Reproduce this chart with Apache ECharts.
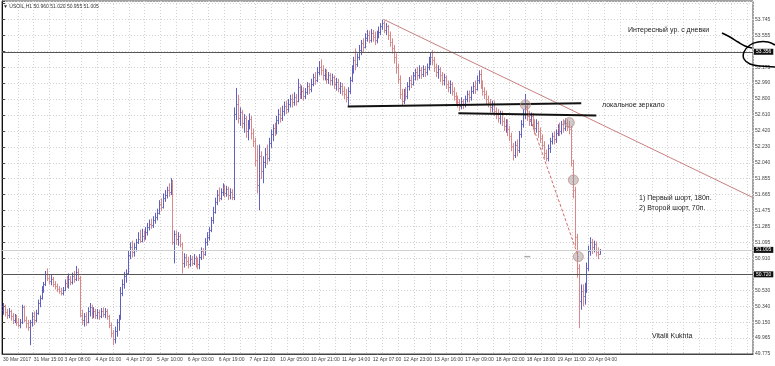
<!DOCTYPE html>
<html><head><meta charset="utf-8">
<script src="https://cdn.jsdelivr.net/npm/echarts@6/dist/echarts.min.js"></script>
<style>html,body{margin:0;padding:0;background:#fff}#c{width:775px;height:366px}</style>
</head><body><div id="c"></div>
<script>
// ---- data ----
const symbolName = 'USOIL,H1';
const timeLabels = ['30 Mar 2017','31 Mar 15:00','3 Apr 08:00','4 Apr 01:00','4 Apr 17:00','5 Apr 10:00','6 Apr 03:00','6 Apr 19:00','7 Apr 12:00','10 Apr 05:00','10 Apr 21:00','11 Apr 14:00','12 Apr 07:00','12 Apr 23:00','13 Apr 16:00','17 Apr 09:00','18 Apr 02:00','18 Apr 18:00','19 Apr 11:00','20 Apr 04:00'];
const priceTicks = ['49.775','49.965','50.150','50.340','50.530','50.720','50.910','51.095','51.285','51.475','51.665','51.855','52.040','52.230','52.420','52.610','52.800','52.990','53.175','53.365','53.555','53.745'];
// [open, close, low, high]
const bars = [
[50.30,50.34,50.24,50.38],[50.34,50.27,50.22,50.36],[50.27,50.24,50.19,50.31],[50.24,50.28,50.20,50.32],[50.28,50.22,50.17,50.30],
[50.22,50.18,50.13,50.26],[50.18,50.21,50.14,50.25],[50.21,50.16,50.11,50.24],[50.16,50.12,50.09,50.20],[50.12,50.15,50.08,50.19],
[50.15,50.33,50.13,50.36],[50.33,50.18,50.15,50.35],[50.18,50.14,50.08,50.22],[50.14,50.10,50.05,50.18],[50.10,50.15,49.88,50.18],
[50.15,50.22,50.10,50.27],[50.22,50.18,50.12,50.28],[50.18,50.26,50.15,50.30],[50.26,50.38,50.24,50.42],[50.38,50.44,50.33,50.47],
[50.44,50.55,50.42,50.58],[50.55,50.60,50.50,50.63],[50.60,50.72,50.58,50.76],[50.72,50.68,50.64,50.79],[50.68,50.64,50.60,50.72],
[50.64,50.67,50.59,50.71],[50.67,50.61,50.57,50.69],[50.61,50.58,50.54,50.64],[50.58,50.55,50.51,50.61],[50.55,50.52,50.49,50.58],
[50.52,50.50,50.47,50.56],[50.50,50.54,50.47,50.57],[50.54,50.62,50.52,50.66],[50.62,50.58,50.56,50.70],[50.58,50.66,50.55,50.73],
[50.66,50.63,50.59,50.70],[50.63,50.70,50.60,50.74],[50.70,50.66,50.62,50.76],[50.66,50.75,50.64,50.82],[50.75,50.68,50.64,50.79],
[50.68,50.24,50.21,50.70],[50.24,50.18,50.12,50.30],[50.18,50.22,50.10,50.26],[50.22,50.15,50.11,50.27],[50.15,50.28,50.14,50.33],
[50.28,50.33,50.22,50.38],[50.33,50.26,50.19,50.36],[50.26,50.29,50.20,50.33],[50.29,50.24,50.19,50.31],[50.24,50.27,50.19,50.31],
[50.27,50.23,50.18,50.30],[50.23,50.28,50.20,50.32],[50.28,50.25,50.21,50.33],[50.25,50.29,50.20,50.32],[50.29,50.22,50.18,50.31],
[50.22,50.12,50.08,50.24],[50.12,50.02,49.97,50.15],[50.02,49.95,49.88,50.06],[49.95,50.05,49.90,50.10],[50.05,50.15,49.98,50.19],
[50.15,50.20,50.05,50.24],[50.20,50.50,50.18,50.57],[50.50,50.60,50.46,50.66],[50.60,50.70,50.55,50.75],[50.70,50.74,50.62,50.78],
[50.74,50.95,50.72,51.00],[50.95,51.05,50.90,51.10],[51.05,50.98,50.92,51.12],[50.98,51.04,50.93,51.09],[51.04,51.10,50.99,51.14],
[51.10,51.14,51.08,51.22],[51.14,51.12,51.09,51.25],[51.12,51.18,51.10,51.26],[51.18,51.15,51.11,51.24],[51.15,51.22,51.13,51.28],
[51.22,51.28,51.18,51.33],[51.28,51.32,51.24,51.37],[51.32,51.30,51.26,51.38],[51.30,51.36,51.27,51.41],[51.36,51.40,51.32,51.45],
[51.40,51.45,51.36,51.50],[51.45,51.55,51.43,51.60],[51.55,51.52,51.47,51.62],[51.52,51.62,51.50,51.68],[51.62,51.66,51.58,51.72],
[51.66,51.72,51.62,51.76],[51.72,51.70,51.64,51.80],[51.70,51.82,51.66,51.86],[51.82,51.10,51.07,51.84],[51.10,51.20,50.85,51.24],
[51.20,51.14,51.07,51.24],[51.14,51.18,51.06,51.22],[51.18,51.08,51.04,51.20],[51.08,50.85,50.73,51.10],[50.85,50.92,50.80,50.97],
[50.92,50.88,50.82,50.96],[50.88,50.84,50.79,50.93],[50.84,50.90,50.81,50.95],[50.90,50.86,50.82,50.94],[50.86,50.91,50.83,50.96],
[50.91,50.87,50.80,50.94],[50.87,50.84,50.78,50.92],[50.84,50.92,50.78,50.96],[50.92,51.00,50.89,51.04],[51.00,50.96,50.90,51.03],
[50.96,51.10,50.94,51.15],[51.10,51.16,51.06,51.22],[51.16,51.24,51.12,51.28],[51.24,51.36,51.22,51.40],[51.36,51.46,51.32,51.52],
[51.46,51.58,51.44,51.63],[51.58,51.66,51.54,51.72],[51.66,51.63,51.58,51.75],[51.63,51.70,51.60,51.74],[51.70,51.74,51.65,51.80],
[51.74,51.68,51.63,51.78],[51.68,51.73,51.64,51.77],[51.73,51.66,51.60,51.76],[51.66,51.70,51.61,51.74],[51.70,51.64,51.60,51.73],
[51.64,52.62,51.60,52.70],[52.62,52.74,52.55,52.93],[52.74,52.58,52.51,52.85],[52.58,52.64,52.48,52.70],[52.64,52.52,52.45,52.67],
[52.52,52.57,52.40,52.62],[52.57,52.42,52.34,52.60],[52.42,52.50,52.31,52.55],[52.50,52.56,52.44,52.63],[52.56,52.40,52.32,52.60],
[52.40,52.30,52.23,52.45],[52.30,52.08,52.00,52.34],[52.08,51.78,51.68,52.25],[51.78,52.12,51.48,52.26],[52.12,51.95,51.85,52.18],
[51.95,52.05,51.80,52.12],[52.05,52.15,51.98,52.22],[52.15,52.10,52.02,52.26],[52.10,52.28,52.06,52.34],[52.28,52.38,52.22,52.44],
[52.38,52.46,52.30,52.50],[52.46,52.42,52.36,52.52],[52.42,52.55,52.38,52.60],[52.55,52.62,52.50,52.68],[52.62,52.58,52.52,52.70],
[52.58,52.66,52.54,52.72],[52.66,52.72,52.60,52.77],[52.72,52.68,52.62,52.78],[52.68,52.74,52.64,52.80],[52.74,52.80,52.70,52.85],
[52.80,52.76,52.70,52.86],[52.76,52.82,52.72,52.88],[52.82,52.78,52.72,52.86],[52.78,52.94,52.76,53.04],[52.94,52.86,52.80,52.98],
[52.86,52.90,52.80,52.96],[52.90,52.84,52.78,52.94],[52.84,52.88,52.80,52.93],[52.88,52.95,52.85,53.00],[52.95,52.92,52.86,52.99],
[52.92,52.98,52.88,53.04],[52.98,53.06,52.95,53.10],[53.06,53.02,52.97,53.12],[53.02,53.12,53.00,53.18],[53.12,53.18,53.08,53.25],
[53.18,53.14,53.08,53.27],[53.14,53.08,53.02,53.20],[53.08,53.12,53.02,53.16],[53.12,53.04,52.98,53.15],[53.04,53.08,52.98,53.12],
[53.08,53.02,52.96,53.11],[53.02,53.06,52.96,53.10],[53.06,52.98,52.92,53.08],[52.98,53.00,52.90,53.05],[53.00,52.93,52.88,53.04],
[52.93,52.96,52.86,53.00],[52.96,52.90,52.84,52.99],[52.90,52.86,52.80,52.95],[52.86,52.82,52.76,52.92],[52.82,52.90,52.72,52.94],
[52.90,53.02,52.86,53.06],[53.02,53.16,53.00,53.20],[53.16,53.26,53.10,53.30],[53.26,53.22,53.14,53.40],[53.22,53.30,53.18,53.34],
[53.30,53.38,53.26,53.44],[53.38,53.46,53.32,53.50],[53.46,53.42,53.36,53.52],[53.42,53.52,53.40,53.58],[53.52,53.56,53.48,53.62],
[53.56,53.50,53.46,53.61],[53.50,53.58,53.47,53.63],[53.58,53.54,53.48,53.62],[53.54,53.50,53.44,53.60],[53.50,53.56,53.46,53.61],
[53.56,53.60,53.52,53.66],[53.60,53.66,53.56,53.70],[53.66,53.70,53.62,53.74],[53.70,53.62,53.58,53.73],[53.62,53.66,53.56,53.70],
[53.66,53.56,53.50,53.68],[53.56,53.48,53.42,53.60],[53.48,53.40,53.34,53.52],[53.40,53.30,53.22,53.44],[53.30,53.18,53.10,53.34],
[53.18,53.04,52.98,53.22],[53.04,52.86,52.80,53.08],[52.86,52.78,52.72,52.92],[52.78,52.88,52.74,52.92],[52.88,52.84,52.78,52.94],
[52.84,52.95,52.80,53.00],[52.95,53.02,52.90,53.06],[53.02,52.98,52.93,53.08],[52.98,53.08,52.96,53.12],[53.08,53.12,53.02,53.16],
[53.12,53.08,53.02,53.18],[53.08,53.14,53.04,53.20],[53.14,53.10,53.04,53.18],[53.10,53.16,53.06,53.20],[53.16,53.12,53.06,53.19],
[53.12,53.18,53.08,53.22],[53.18,53.24,53.14,53.30],[53.24,53.30,53.20,53.35],[53.30,53.26,53.20,53.38],[53.26,53.18,53.12,53.30],
[53.18,53.12,53.06,53.22],[53.12,53.16,53.04,53.20],[53.16,53.08,53.00,53.18],[53.08,53.02,52.96,53.12],[53.02,53.06,52.96,53.10],
[53.06,52.98,52.92,53.08],[52.98,52.94,52.88,53.02],[52.94,52.98,52.86,53.02],[52.98,52.90,52.84,53.00],[52.90,52.84,52.78,52.94],
[52.84,52.80,52.74,52.88],[52.80,52.76,52.70,52.84],[52.76,52.72,52.66,52.80],[52.72,52.78,52.68,52.82],[52.78,52.74,52.68,52.80],
[52.74,52.80,52.70,52.84],[52.80,52.86,52.76,52.90],[52.86,52.82,52.76,52.90],[52.82,52.90,52.78,52.95],[52.90,52.96,52.86,53.00],
[52.96,52.92,52.86,53.02],[52.92,53.02,52.90,53.08],[53.02,53.10,52.98,53.14],[53.10,52.98,52.92,53.15],[52.98,52.90,52.84,53.02],
[52.90,52.86,52.80,52.94],[52.86,52.80,52.74,52.90],[52.80,52.76,52.70,52.84],[52.76,52.70,52.64,52.80],[52.70,52.74,52.64,52.78],
[52.74,52.66,52.60,52.78],[52.66,52.62,52.56,52.70],[52.62,52.58,52.52,52.68],[52.58,52.62,52.50,52.66],[52.62,52.54,52.48,52.66],
[52.54,52.48,52.42,52.58],[52.48,52.52,52.40,52.56],[52.52,52.44,52.36,52.56],[52.44,52.36,52.30,52.48],[52.36,52.24,52.18,52.40],
[52.24,52.14,52.07,52.28],[52.14,52.26,52.10,52.30],[52.26,52.20,52.12,52.32],[52.20,52.38,52.16,52.42],[52.38,52.50,52.34,52.55],
[52.50,52.62,52.46,52.68],[52.62,52.70,52.56,52.86],[52.70,52.60,52.54,52.74],[52.60,52.54,52.48,52.66],[52.54,52.60,52.48,52.64],
[52.60,52.50,52.44,52.63],[52.50,52.46,52.38,52.56],[52.46,52.52,52.40,52.56],[52.52,52.42,52.34,52.54],[52.42,52.34,52.28,52.46],
[52.34,52.26,52.20,52.38],[52.26,52.16,52.10,52.30],[52.16,52.10,52.06,52.20],[52.10,52.22,52.06,52.26],[52.22,52.30,52.16,52.34],
[52.30,52.36,52.26,52.40],[52.36,52.32,52.26,52.42],[52.32,52.40,52.28,52.44],[52.40,52.46,52.36,52.50],[52.46,52.42,52.36,52.52],
[52.42,52.50,52.38,52.54],[52.50,52.46,52.40,52.56],[52.46,52.52,52.42,52.57],[52.52,52.48,52.42,52.56],[52.48,52.44,52.38,52.54],
[52.44,52.04,52.00,52.48],[52.04,51.72,51.62,52.08],[51.72,51.16,51.05,51.76],[51.16,50.80,50.68,51.20],[50.80,50.40,50.08,50.84],
[50.40,50.52,50.30,50.60],[50.52,50.46,50.34,50.60],[50.46,50.54,50.36,50.62],[50.54,50.80,50.50,50.86],[50.80,51.00,50.76,51.06],
[51.00,51.10,50.94,51.16],[51.10,51.04,50.96,51.14],[51.04,51.08,50.98,51.12],[51.08,50.98,50.93,51.11],[50.98,50.96,50.90,51.04],
[50.960,51.005,50.955,51.020]
];
const totalSlots = 390;           // bars + chart shift space on the right
const levelLines = [53.356, 50.720];
const bidPrice = 51.005;
// annotations in (bar index, price)
const trendLine = [[197.6, 53.745], [389.5, 51.63]];
const mirrorLine1 = [[179, 52.71], [300.3, 52.75]];
const mirrorLine2 = [[236.5, 52.63], [308.1, 52.605]];
const entryPath = [[271.3, 52.73], [298.8, 50.93]];
const circles = [[271.3, 52.73], [294.1, 52.52], [296.2, 51.84], [298.8, 50.93]];
const markerPts = [[272.3, 50.93]];

// ---- chart ----
const step = (parseFloat(priceTicks[priceTicks.length-1]) - parseFloat(priceTicks[0])) / (priceTicks.length - 1);
const pMin = parseFloat(priceTicks[0]);
const uMax = 22.15;
const pMax = pMin + uMax * step;
const upColor = '#6060c0', downColor = '#d88888';
const FONT = 'Liberation Sans, Arial, sans-serif';
const last = bars[bars.length-1];
const titleText = symbolName + ' ' + [last[0], last[3], last[2], last[1]].map(v => v.toFixed(3)).join(' ');

function renderBar(params, api) {
  const i = api.value(0);
  const o = api.coord([i, api.value(1)]);
  const c = api.coord([i, api.value(2)]);
  const l = api.coord([i, api.value(3)]);
  const h = api.coord([i, api.value(4)]);
  const x = Math.round(o[0]) + 0.5;
  const col = api.value(2) >= api.value(1) ? upColor : downColor;
  const st = {stroke: col, lineWidth: 1};
  return {type: 'group', children: [
    {type: 'line', shape: {x1: x, y1: h[1], x2: x, y2: l[1]}, style: st},
    {type: 'line', shape: {x1: x - 1, y1: Math.round(o[1]) + 0.5, x2: x, y2: Math.round(o[1]) + 0.5}, style: st},
    {type: 'line', shape: {x1: x, y1: Math.round(c[1]) + 0.5, x2: x + 1, y2: Math.round(c[1]) + 0.5}, style: st}
  ]};
}

const gridDash = {color: '#d2d2d2', type: [1, 2], width: 1};
const lblBox = {show: true, position: 'end', distance: 1, color: '#fff', backgroundColor: '#111', fontSize: 5, fontFamily: FONT, padding: [1, 2, 0, 2]};

const chart = echarts.init(document.getElementById('c'), null, {renderer: 'canvas'});
chart.setOption({
  animation: false,
  backgroundColor: '#fff',
  grid: {left: 1, right: 22, top: 1, bottom: 12, show: true, borderColor: '#444', borderWidth: 1},
  xAxis: [
    {type: 'category', gridIndex: 0, data: Array.from({length: totalSlots}, (_, k) => String(k)),
     boundaryGap: true, axisLine: {show: true, lineStyle: {color: '#444'}}, axisTick: {show: false}, splitLine: {show: false},
     axisLabel: {interval: 15, align: 'left', margin: 3, fontSize: 5, fontFamily: FONT, color: '#444',
       formatter: (v, idx) => timeLabels[idx / 16] || ''}},
    {type: 'value', gridIndex: 0, min: -0.5, max: totalSlots - 0.5, show: false},
    {type: 'value', gridIndex: 0, min: 0, max: 752 / 15.87, interval: 1, axisLine: {show: false}, axisTick: {show: false},
     axisLabel: {show: false}, splitLine: {show: true, lineStyle: gridDash}}
  ],
  yAxis: [
    {type: 'value', min: pMin, max: pMax, show: false, scale: true},
    {type: 'value', min: 0, max: uMax, interval: 1, position: 'right',
     axisLine: {show: true, lineStyle: {color: '#111'}}, axisTick: {show: true, length: 3, lineStyle: {color: '#444'}},
     axisLabel: {margin: 2, fontSize: 5, fontFamily: FONT, color: '#444',
       formatter: v => (Number.isInteger(v) && priceTicks[v]) ? priceTicks[v] : ''},
     splitLine: {show: true, lineStyle: gridDash}}
  ],
  series: [
    {type: 'custom', xAxisIndex: 1, yAxisIndex: 0, renderItem: renderBar, clip: true,
     encode: {x: 0, y: [1, 2, 3, 4]},
     data: bars.map((b, i) => [i, b[0], b[1], b[2], b[3]]),
     markLine: {silent: true, symbol: 'none', animation: false,
       data: [
         {yAxis: levelLines[0], lineStyle: {color: '#555', width: 1, type: 'solid'}, label: Object.assign({}, lblBox, {formatter: levelLines[0].toFixed(3)})},
         {yAxis: bidPrice, lineStyle: {color: '#d0d0d0', width: 1, type: 'solid'}, label: Object.assign({}, lblBox, {formatter: bidPrice.toFixed(3)})},
         {yAxis: levelLines[1], lineStyle: {color: '#555', width: 1, type: 'solid'}, label: Object.assign({}, lblBox, {formatter: levelLines[1].toFixed(3)})}
       ]}},
    {type: 'line', xAxisIndex: 1, yAxisIndex: 0, data: trendLine, symbol: 'none', lineStyle: {color: '#c98080', width: 1}, z: 3},
    {type: 'line', xAxisIndex: 1, yAxisIndex: 0, data: mirrorLine1, symbol: 'none', lineStyle: {color: '#111', width: 2}, z: 4},
    {type: 'line', xAxisIndex: 1, yAxisIndex: 0, data: mirrorLine2, symbol: 'none', lineStyle: {color: '#111', width: 2}, z: 4},
    {type: 'line', xAxisIndex: 1, yAxisIndex: 0, data: entryPath, symbol: 'none', lineStyle: {color: '#d46a6a', width: 1, type: [3, 2]}, z: 4},
    {type: 'scatter', xAxisIndex: 1, yAxisIndex: 0, data: circles, symbolSize: 10,
     itemStyle: {color: 'rgba(150,140,140,0.55)', borderColor: '#c89090', borderWidth: 1}, z: 5},
    {type: 'scatter', xAxisIndex: 1, yAxisIndex: 0, data: markerPts, symbol: 'rect', symbolSize: [6, 1.5],
     itemStyle: {color: '#999'}, z: 5}
  ],
  graphic: [
    {type: 'text', x: 3, y: 7, style: {text: '▼ ' + titleText, fontSize: 5, fontFamily: FONT, fill: '#333', verticalAlign: 'middle'}, z: 10},
    {type: 'text', x: 628, y: 30, style: {text: 'Интересный ур. с дневки', fontSize: 7, fontFamily: FONT, fill: '#222', verticalAlign: 'middle'}, z: 10},
    {type: 'text', x: 602, y: 105, style: {text: 'локальное зеркало', fontSize: 7, fontFamily: FONT, fill: '#222', verticalAlign: 'middle'}, z: 10},
    {type: 'text', x: 639, y: 198, style: {text: '1) Первый шорт, 180п.', fontSize: 7, fontFamily: FONT, fill: '#222', verticalAlign: 'middle'}, z: 10},
    {type: 'text', x: 639, y: 208, style: {text: '2) Второй шорт, 70п.', fontSize: 7, fontFamily: FONT, fill: '#222', verticalAlign: 'middle'}, z: 10},
    {type: 'text', x: 652, y: 336, style: {text: 'Vitalii Kukhta', fontSize: 7, fontFamily: FONT, fill: '#222', verticalAlign: 'middle'}, z: 10},
    {type: 'polyline', shape: {points: [[722, 33], [730, 37], [738, 42], [745, 46], [752, 48]], smooth: 0.4},
     style: {stroke: '#000', lineWidth: 1.5, fill: null}, z: 10},
    {type: 'polyline', shape: {points: [[775, 45], [768, 42], [758, 42], [750, 45], [744, 52], [744, 59], [750, 64], [760, 66], [775, 67]], smooth: 0.4},
     style: {stroke: '#000', lineWidth: 1.5, fill: null}, z: 10}
  ]
});
</script>
</body></html>
